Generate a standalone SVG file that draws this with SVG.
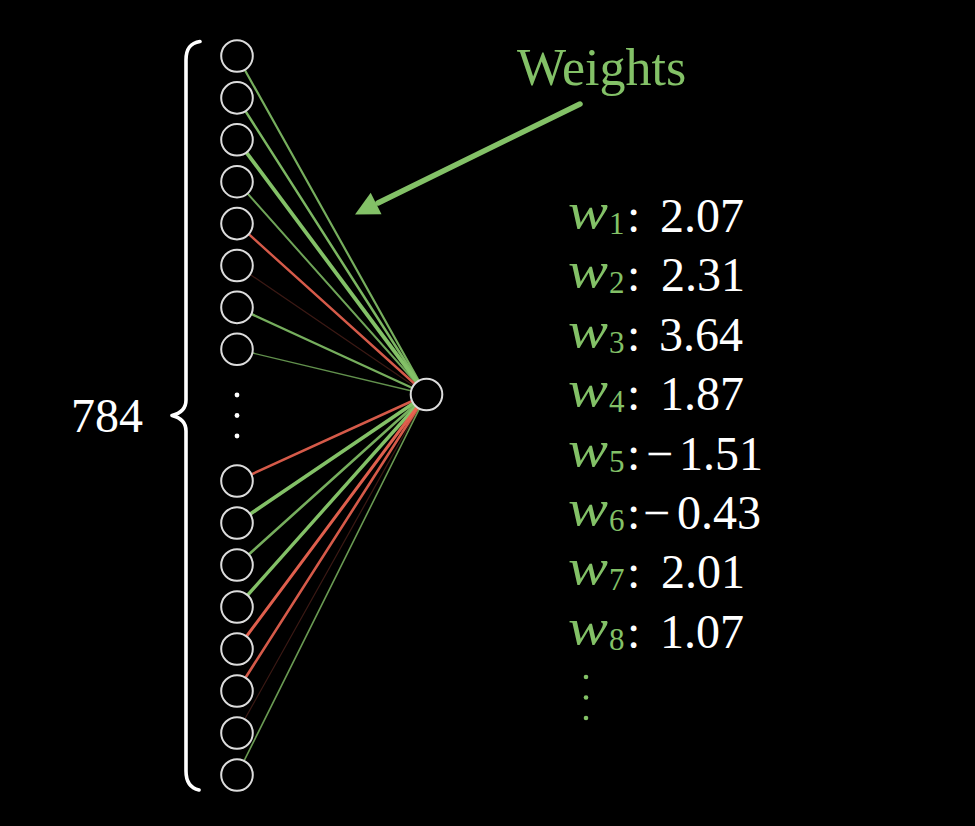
<svg xmlns="http://www.w3.org/2000/svg" width="975" height="826" viewBox="0 0 975 826">
<defs>
<style>
.bg{fill:#000}
.node{fill:#000;stroke:#dcdcdc;stroke-width:2}
.g{stroke:#83C167;stroke-linecap:round;fill:none}
.r{stroke:#EC6451;stroke-linecap:round;fill:none}
.txt{font-family:"Liberation Serif","DejaVu Serif",serif;fill:#fff}
.gt{font-family:"Liberation Serif","DejaVu Serif",serif;fill:#83C167}
.wv{font-style:italic;font-size:50px}
.sub{font-size:31px}
.dot{fill:#fff}
.gdot{fill:#83C167}
</style>
</defs>
<rect class="bg" x="0" y="0" width="975" height="826"/>

<g id="connectors">
  <line class="g" x1="237" y1="56" x2="426.5" y2="394.5" stroke-width="2.2" opacity="0.9"/>
  <line class="g" x1="237" y1="97.9" x2="426.5" y2="394.5" stroke-width="2.5" opacity="0.95"/>
  <line class="g" x1="237" y1="139.8" x2="426.5" y2="394.5" stroke-width="3.8"/>
  <line class="g" x1="237" y1="181.7" x2="426.5" y2="394.5" stroke-width="2" opacity="0.85"/>
  <line class="r" x1="237" y1="223.6" x2="426.5" y2="394.5" stroke-width="2.4" opacity="0.9"/>
  <line class="r" x1="237" y1="265.5" x2="426.5" y2="394.5" stroke-width="1.2" opacity="0.25"/>
  <line class="g" x1="237" y1="307.4" x2="426.5" y2="394.5" stroke-width="2.3" opacity="0.9"/>
  <line class="g" x1="237" y1="349.3" x2="426.5" y2="394.5" stroke-width="1.4" opacity="0.75"/>
  <line class="r" x1="237" y1="481" x2="426.5" y2="394.5" stroke-width="2.5" opacity="0.9"/>
  <line class="g" x1="237" y1="523" x2="426.5" y2="394.5" stroke-width="3.6"/>
  <line class="g" x1="237" y1="565" x2="426.5" y2="394.5" stroke-width="2.6" opacity="0.9"/>
  <line class="g" x1="237" y1="607" x2="426.5" y2="394.5" stroke-width="3.4"/>
  <line class="r" x1="237" y1="649" x2="426.5" y2="394.5" stroke-width="3" opacity="0.95"/>
  <line class="r" x1="237" y1="691" x2="426.5" y2="394.5" stroke-width="2.6" opacity="0.9"/>
  <line class="r" x1="237" y1="733" x2="426.5" y2="394.5" stroke-width="1.2" opacity="0.25"/>
  <line class="g" x1="237" y1="775" x2="426.5" y2="394.5" stroke-width="1.6" opacity="0.8"/>
</g>

<g id="inputs">
  <g id="in1"><circle class="node" cx="237" cy="56" r="15.8"/></g>
  <g id="in2"><circle class="node" cx="237" cy="97.9" r="15.8"/></g>
  <g id="in3"><circle class="node" cx="237" cy="139.8" r="15.8"/></g>
  <g id="in4"><circle class="node" cx="237" cy="181.7" r="15.8"/></g>
  <g id="in5"><circle class="node" cx="237" cy="223.6" r="15.8"/></g>
  <g id="in6"><circle class="node" cx="237" cy="265.5" r="15.8"/></g>
  <g id="in7"><circle class="node" cx="237" cy="307.4" r="15.8"/></g>
  <g id="in8"><circle class="node" cx="237" cy="349.3" r="15.8"/></g>
  <g id="in-dots">
    <circle class="dot" cx="237" cy="395" r="2.4"/>
    <circle class="dot" cx="237" cy="415.5" r="2.4"/>
    <circle class="dot" cx="237" cy="436" r="2.4"/>
  </g>
  <g id="in9"><circle class="node" cx="237" cy="481" r="15.8"/></g>
  <g id="in10"><circle class="node" cx="237" cy="523" r="15.8"/></g>
  <g id="in11"><circle class="node" cx="237" cy="565" r="15.8"/></g>
  <g id="in12"><circle class="node" cx="237" cy="607" r="15.8"/></g>
  <g id="in13"><circle class="node" cx="237" cy="649" r="15.8"/></g>
  <g id="in14"><circle class="node" cx="237" cy="691" r="15.8"/></g>
  <g id="in15"><circle class="node" cx="237" cy="733" r="15.8"/></g>
  <g id="in16"><circle class="node" cx="237" cy="775" r="15.8"/></g>
</g>

<g id="output"><circle class="node" cx="426.5" cy="394.5" r="15.8"/></g>

<g id="brace">
  <path d="M 200 41.5 C 190 43, 186 49, 186 60 L 186 400 C 186 409, 180 413.5, 172 415.5 C 180 417.5, 186 422, 186 431 L 186 771 C 186 782, 190 788, 199 790" fill="none" stroke="#fff" stroke-width="3.6" stroke-linecap="round" stroke-linejoin="round"/>
  <text class="txt" x="71" y="432" font-size="48">784</text>
</g>

<g id="weights-label">
  <text class="gt" x="517" y="85" font-size="52">Weights</text>
  <line x1="580" y1="104" x2="378" y2="203" stroke="#83C167" stroke-width="5.5" stroke-linecap="round"/>
  <polygon points="355,214.5 370.7,192.7 381.5,214.3" fill="#83C167"/>
</g>

<g id="weight-list">
  <g id="w1"><text class="gt wv" x="568" y="228" textLength="40" lengthAdjust="spacingAndGlyphs">w</text><text class="gt sub" x="609" y="234">1</text><text class="txt" x="627" y="232" font-size="48">:</text><text class="txt" x="660" y="232" font-size="48">2.07</text></g>
  <g id="w2"><text class="gt wv" x="568" y="287.4" textLength="40" lengthAdjust="spacingAndGlyphs">w</text><text class="gt sub" x="609" y="293.4">2</text><text class="txt" x="627" y="291.4" font-size="48">:</text><text class="txt" x="661" y="291.4" font-size="48">2.31</text></g>
  <g id="w3"><text class="gt wv" x="568" y="346.8" textLength="40" lengthAdjust="spacingAndGlyphs">w</text><text class="gt sub" x="609" y="352.8">3</text><text class="txt" x="627" y="350.8" font-size="48">:</text><text class="txt" x="659" y="350.8" font-size="48">3.64</text></g>
  <g id="w4"><text class="gt wv" x="568" y="406.2" textLength="40" lengthAdjust="spacingAndGlyphs">w</text><text class="gt sub" x="609" y="412.2">4</text><text class="txt" x="627" y="410.2" font-size="48">:</text><text class="txt" x="660" y="410.2" font-size="48">1.87</text></g>
  <g id="w5"><text class="gt wv" x="568" y="465.6" textLength="40" lengthAdjust="spacingAndGlyphs">w</text><text class="gt sub" x="609" y="471.6">5</text><text class="txt" x="627" y="469.6" font-size="48">:</text><text class="txt" x="646" y="469.6" font-size="48">−</text><text class="txt" x="679" y="469.6" font-size="48">1.51</text></g>
  <g id="w6"><text class="gt wv" x="568" y="525" textLength="40" lengthAdjust="spacingAndGlyphs">w</text><text class="gt sub" x="609" y="531">6</text><text class="txt" x="627" y="529" font-size="48">:</text><text class="txt" x="643" y="529" font-size="48">−</text><text class="txt" x="677" y="529" font-size="48">0.43</text></g>
  <g id="w7"><text class="gt wv" x="568" y="584.4" textLength="40" lengthAdjust="spacingAndGlyphs">w</text><text class="gt sub" x="609" y="590.4">7</text><text class="txt" x="627" y="588.4" font-size="48">:</text><text class="txt" x="661" y="588.4" font-size="48">2.01</text></g>
  <g id="w8"><text class="gt wv" x="568" y="643.8" textLength="40" lengthAdjust="spacingAndGlyphs">w</text><text class="gt sub" x="609" y="649.8">8</text><text class="txt" x="627" y="647.8" font-size="48">:</text><text class="txt" x="660" y="647.8" font-size="48">1.07</text></g>
  <g id="w-dots">
    <circle class="gdot" cx="586" cy="677" r="2.3"/>
    <circle class="gdot" cx="586" cy="697.5" r="2.3"/>
    <circle class="gdot" cx="586" cy="718" r="2.3"/>
  </g>
</g>
</svg>
